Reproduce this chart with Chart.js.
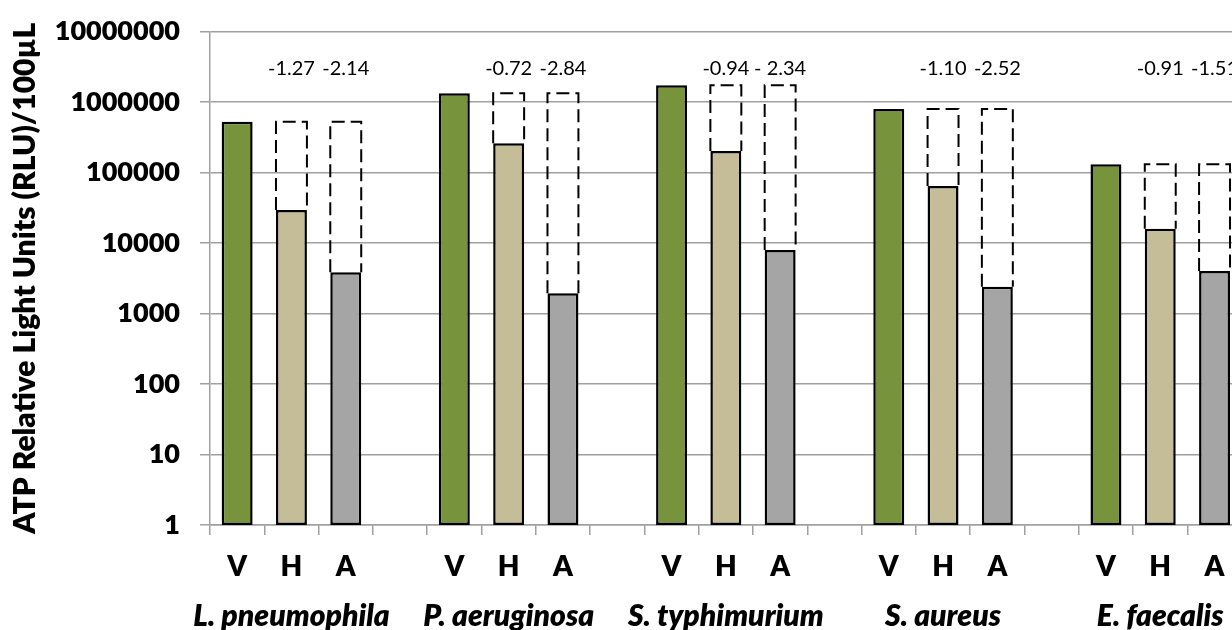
<!DOCTYPE html>
<html>
<head>
<meta charset="utf-8">
<script src="https://cdn.jsdelivr.net/npm/chart.js@4.4.1/dist/chart.umd.min.js"></script>
<style>
  html, body { margin: 0; padding: 0; background: #fff; width: 1232px; height: 630px; overflow: hidden; }
  #wrap { width: 1296px; height: 630px; }
</style>
</head>
<body>
<div id="wrap"><canvas id="atpChart" width="1296" height="630"></canvas></div>
<script>
// species groups, each with V / H / A bars and one empty slot
const groups = ['L. pneumophila', 'P. aeruginosa', 'S. typhimurium', 'S. aureus', 'E. faecalis'];
const subLabels = ['V', 'H', 'A', ''];

// RLU per 100 µL
const vValues = [525000, 1330000, 1730000, 796000, 131000];
const hValues = [29400, 260000, 202000, 64400, 15950];
const aValues = [3840, 1930, 7950, 2400, 4010];

// log reduction labels printed above H and A
const hDrop = ['-1.27', '-0.72', '-0.94', '-1.10', '-0.91'];
const aDrop = ['-2.14', '-2.84', '- 2.34', '-2.52', '-1.51'];

const yTicks = [1, 10, 100, 1000, 10000, 100000, 1000000, 10000000];

const barColors = ['#77933C', '#C4BD97', '#A5A5A5', 'rgba(0,0,0,0)'];
const GRID = '#a0a0a0';
const NOTE_LEVEL = 3000000; // height of the reduction labels, in axis units
const HEAVY = 800;

// build the flat per-slot arrays from the groups
const xLabels = [], groupRow = [], barData = [], topData = [], notes = [];
groups.forEach((g, i) => {
    subLabels.forEach(s => xLabels.push(s));
    groupRow.push('', g, '', '');
    barData.push(vValues[i], hValues[i], aValues[i], null);
    topData.push(null, vValues[i], vValues[i], null);
    notes.push('', hDrop[i], aDrop[i], '');
});

// dashed outline from H/A bar up to the V level, plus the reduction numbers
const dashedBoxes = {
    id: 'dashedBoxes',
    afterDatasetsDraw(chart) {
        const {ctx} = chart;
        const yScale = chart.scales.y;
        const meta = chart.getDatasetMeta(0);
        ctx.save();
        meta.data.forEach((bar, i) => {
            if (topData[i] == null) return;
            const {x, y, width} = bar.getProps(['x', 'y', 'width'], true);
            const top = yScale.getPixelForValue(topData[i]);
            ctx.strokeStyle = '#000';
            ctx.lineWidth = 2;
            ctx.setLineDash([13, 6]);
            ctx.beginPath();
            ctx.moveTo(x - width / 2, y);
            ctx.lineTo(x - width / 2, top);
            ctx.lineTo(x + width / 2, top);
            ctx.lineTo(x + width / 2, y);
            ctx.stroke();
        });
        ctx.setLineDash([]);
        ctx.fillStyle = '#000';
        ctx.font = '20px Lato, sans-serif';
        ctx.textAlign = 'center';
        ctx.textBaseline = 'middle';
        const ny = yScale.getPixelForValue(NOTE_LEVEL);
        meta.data.forEach((bar, i) => {
            if (!notes[i]) return;
            ctx.fillText(notes[i], bar.x, ny);
        });
        ctx.restore();
    }
};

new Chart(document.getElementById('atpChart'), {
    type: 'bar',
    data: {
        labels: xLabels,
        datasets: [{
            data: barData,
            backgroundColor: xLabels.map((_, i) => barColors[i % 4]),
            borderColor: '#000',
            borderWidth: 2.5,
            borderSkipped: false,
            barPercentage: 0.57,
            categoryPercentage: 1.0
        }]
    },
    options: {
        responsive: false,
        animation: false,
        layout: { padding: { top: 31.5, left: 0, right: 0, bottom: 0 } },
        plugins: { legend: { display: false }, tooltip: { enabled: false } },
        scales: {
            y: {
                type: 'logarithmic',
                min: 1,
                max: 10000000,
                afterBuildTicks: (scale) => { scale.ticks = yTicks.map(v => ({ value: v })); },
                afterFit: (scale) => {
                    scale.width = 210;
                    // keep tick padding from pushing the plot area down
                    scale.paddingTop = 0;
                    scale.paddingBottom = 0;
                },
                ticks: {
                    padding: 20,
                    color: '#000',
                    font: { family: 'Lato', size: 27, weight: HEAVY },
                    callback: (v) => String(v)
                },
                grid: { color: GRID, lineWidth: 1.5, tickLength: 10 },
                border: { color: GRID, width: 1.5 },
                title: {
                    display: true,
                    text: 'ATP Relative Light Units (RLU)/100µL',
                    color: '#000',
                    font: { family: 'Lato', size: 30, weight: HEAVY },
                    padding: { top: 7, bottom: 0 }
                }
            },
            x: {
                afterFit: (scale) => { scale.height = 57; },
                ticks: {
                    padding: 15,
                    color: '#000',
                    autoSkip: false,
                    maxRotation: 0,
                    font: { family: 'Lato', size: 28, weight: HEAVY }
                },
                grid: { drawOnChartArea: false, color: GRID, lineWidth: 1.5, tickLength: 10 },
                border: { color: GRID, width: 1.5 }
            },
            x2: {
                type: 'category',
                position: 'bottom',
                labels: groupRow,
                afterFit: (scale) => { scale.height = 48; },
                ticks: {
                    padding: 16,
                    color: '#000',
                    autoSkip: false,
                    maxRotation: 0,
                    font: { family: 'Lato', size: 30, weight: HEAVY, style: 'italic' }
                },
                grid: { display: false, drawTicks: false },
                border: { display: false }
            }
        }
    },
    plugins: [dashedBoxes]
});
</script>
</body>
</html>
